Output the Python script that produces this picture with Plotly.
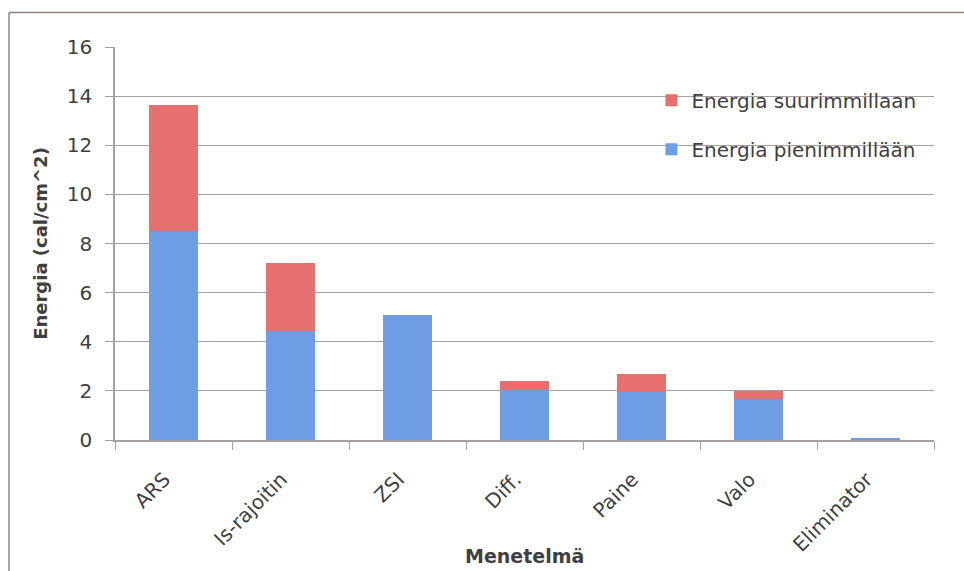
import plotly.graph_objects as go

categories = ["ARS", "Is-rajoitin", "ZSI", "Diff.", "Paine", "Valo", "Eliminator"]
energy_min = [8.5, 4.45, 5.1, 2.05, 1.97, 1.68, 0.1]
energy_extra = [5.15, 2.75, 0.0, 0.35, 0.72, 0.3, 0.0]
y_ticks = [0, 2, 4, 6, 8, 10, 12, 14, 16]

FONT = "DejaVu Sans"
TXT = "#3f3f3f"
GRID = "#a8a0a0"

fig = go.Figure()
fig.add_trace(go.Bar(
    x=categories, y=energy_min, name="Energia pienimmillään",
    marker=dict(color="#6f9de3", line=dict(width=0)), legend="legend2",
))
fig.add_trace(go.Bar(
    x=categories, y=energy_extra, name="Energia suurimmillaan",
    marker=dict(color="#e66f6f", line=dict(width=0)), legend="legend",
))

fig.update_layout(
    width=964, height=571,
    margin=dict(l=115, r=30, t=47, b=131),
    paper_bgcolor="white", plot_bgcolor="white",
    barmode="stack", bargap=0.58,
    font=dict(family=FONT, color=TXT, size=18),
    showlegend=True,
    legend=dict(x=0.655, y=0.8646, xanchor="left", yanchor="middle",
                bgcolor="rgba(0,0,0,0)", font=dict(size=20, color=TXT)),
    legend2=dict(x=0.655, y=0.7396, xanchor="left", yanchor="middle",
                 bgcolor="rgba(0,0,0,0)", font=dict(size=20, color=TXT)),
    xaxis=dict(
        type="category", tickson="boundaries", ticks="outside", ticklen=8,
        tickcolor=GRID, showline=True, linecolor=GRID, linewidth=1.5,
        tickangle=-45, tickfont=dict(size=20, color=TXT),
        ticklabelstandoff=18, ticklabelshift=-9,
        showgrid=False,
    ),
    yaxis=dict(
        range=[0, 16], tickvals=y_ticks, ticks="outside", ticklen=8,
        tickcolor=GRID, showline=True, linecolor=GRID, linewidth=1.5,
        showgrid=True, gridcolor=GRID, gridwidth=1.2,
        tickfont=dict(size=20, color=TXT), ticklabelstandoff=9,
        title=dict(text="<b>Energia (cal/cm^2)</b>", font=dict(size=18, color=TXT), standoff=14),
        zeroline=False,
    ),
    annotations=[
        dict(text="<b>Menetelmä</b>", xref="paper", yref="paper", x=0.5, y=-0.296,
             xanchor="center", yanchor="middle", showarrow=False,
             font=dict(size=19, color=TXT)),
    ],
    shapes=[
        dict(type="line", xref="paper", yref="paper", x0=-0.1294, x1=1.04, y0=1.088, y1=1.088,
             line=dict(color="#8f8585", width=1.5)),
        dict(type="line", xref="paper", yref="paper", x0=-0.1294, x1=-0.1294, y0=1.088, y1=-0.34,
             line=dict(color="#8f8585", width=1.5)),
    ],
)

fig.write_html("out.html")
